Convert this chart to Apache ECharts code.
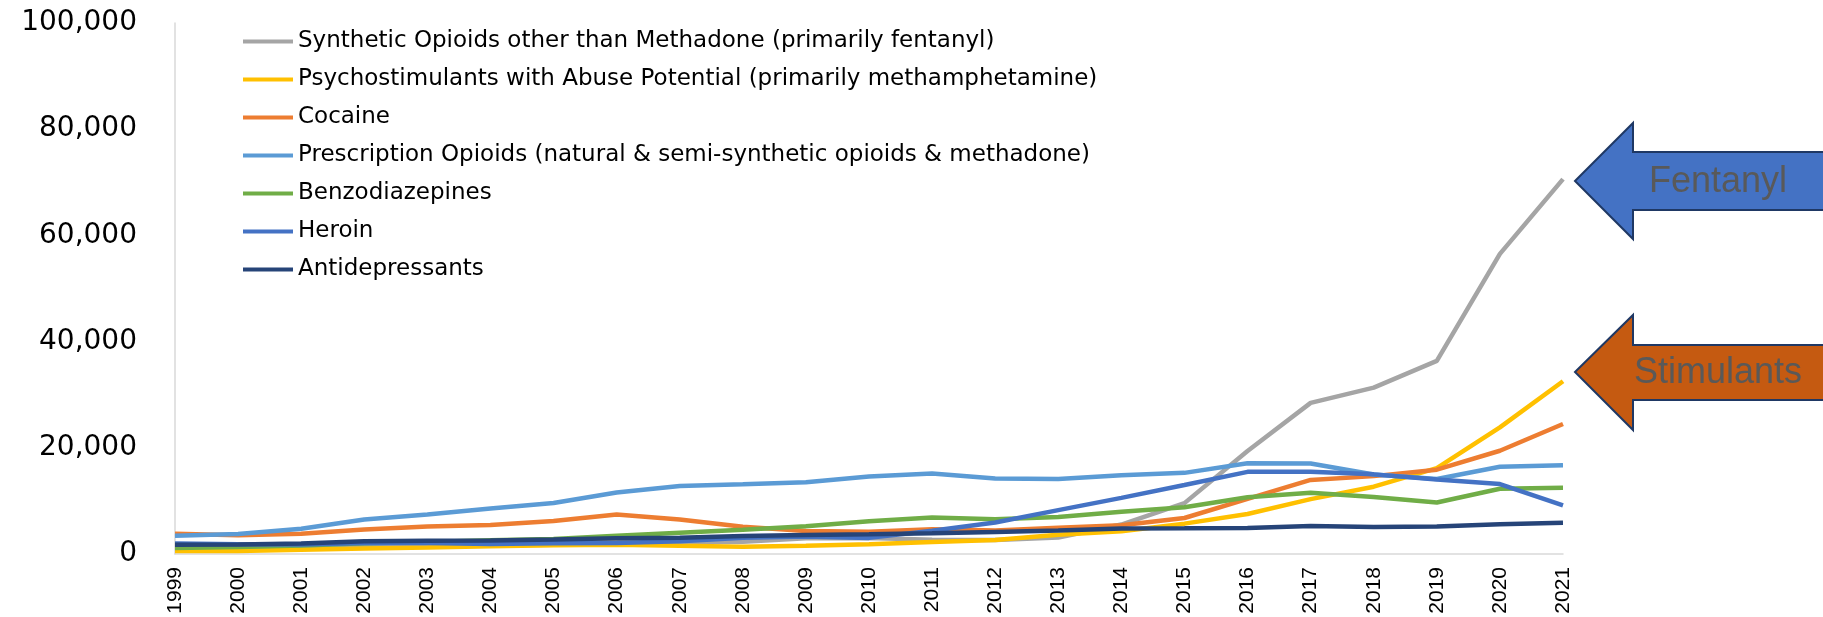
<!DOCTYPE html>
<html>
<head>
<meta charset="utf-8">
<script src="https://cdn.jsdelivr.net/npm/echarts@6.0.0/dist/echarts.min.js"></script>
<style>
  html, body { margin: 0; padding: 0; background: #fff; }
  #root { width: 1823px; height: 617px; }
</style>
</head>
<body>
<div id="root"></div>
<script>
// years on the x axis
const years = ["1999", "2000", "2001", "2002", "2003", "2004", "2005", "2006", "2007", "2008", "2009",
  "2010", "2011", "2012", "2013", "2014", "2015", "2016", "2017", "2018", "2019", "2020", "2021"];

// deaths per drug category
const synthetic = [730, 782, 957, 1295, 1400, 1664, 1742, 2707, 2213, 2306, 2946, 3007, 2666, 2628,
  3105, 5544, 9580, 19413, 28466, 31335, 36359, 56516, 70601];
const psychostimulants = [547, 578, 777, 1027, 1229, 1474, 1639, 1749, 1544, 1354, 1574, 1854, 2266,
  2622, 3627, 4298, 5716, 7542, 10333, 12676, 16167, 23837, 32537];
const cocaine = [3822, 3544, 3833, 4599, 5199, 5443, 6208, 7448, 6512, 5129, 4350, 4183, 4681, 4404,
  4944, 5415, 6784, 10375, 13942, 14666, 15883, 19447, 24486];
const prescription = [3442, 3785, 4770, 6483, 7456, 8577, 9612, 11589, 12796, 13149, 13523, 14583,
  15140, 14240, 14145, 14838, 15281, 17087, 17029, 14975, 14139, 16416, 16706];
const benzodiazepines = [1135, 1298, 1594, 2007, 2248, 2585, 2834, 3438, 4004, 4566, 5229, 6149, 6874,
  6524, 6973, 7945, 8791, 10684, 11537, 10724, 9711, 12290, 12499];
const heroin = [1960, 1842, 1779, 2089, 2080, 1878, 2009, 2088, 2399, 3041, 3278, 3036, 4397, 5925,
  8257, 10574, 12989, 15469, 15482, 14996, 14019, 13165, 9173];
const antidepressants = [1749, 1810, 1978, 2423, 2509, 2556, 2740, 2950, 3072, 3372, 3572, 3698, 3889,
  4155, 4411, 4812, 4839, 4883, 5269, 5064, 5182, 5591, 5863];

const seriesNames = [
  "Synthetic Opioids other than Methadone (primarily fentanyl)",
  "Psychostimulants with Abuse Potential (primarily methamphetamine)",
  "Cocaine",
  "Prescription Opioids (natural & semi-synthetic opioids & methadone)",
  "Benzodiazepines",
  "Heroin",
  "Antidepressants"
];
const seriesData = [synthetic, psychostimulants, cocaine, prescription, benzodiazepines, heroin, antidepressants];
const seriesColors = ["#A5A5A5", "#FFC000", "#ED7D31", "#5B9BD5", "#70AD47", "#4472C4", "#264478"];

const arrowLabels = ["Fentanyl", "Stimulants"];

(function () {
  const myChart = echarts.init(document.getElementById("root"), null, { renderer: "canvas" });

  // arrow outline: tip, head, then shaft running off the right edge
  const arrow = (tipX, tipY, headTop, shaftTop, shaftBottom, headBottom) => [
    [tipX, tipY], [1633, headTop], [1633, shaftTop], [1840, shaftTop],
    [1840, shaftBottom], [1633, shaftBottom], [1633, headBottom]
  ];

  const option = {
    backgroundColor: "#ffffff",
    animation: false,
    textStyle: { fontFamily: "DejaVu Sans" },
    grid: { left: 175, right: 260, top: 23, bottom: 63, containLabel: false },
    legend: {
      orient: "vertical",
      left: 238,
      top: 25,
      itemWidth: 50,
      itemHeight: 4,
      itemGap: 15,
      icon: "rect",
      textStyle: { fontFamily: "DejaVu Sans", fontSize: 23, color: "#000000" },
      data: seriesNames
    },
    xAxis: {
      type: "category",
      data: years,
      boundaryGap: false,
      axisLine: { lineStyle: { color: "#D9D9D9", width: 1.5 } },
      axisTick: { show: false },
      axisLabel: {
        rotate: 90,
        margin: 13,
        interval: 0,
        fontFamily: "Liberation Sans",
        fontSize: 21,
        color: "#000000"
      }
    },
    yAxis: {
      type: "value",
      min: 0,
      max: 100000,
      interval: 20000,
      axisLine: { show: true, lineStyle: { color: "#D9D9D9", width: 1.5 } },
      axisTick: { show: false },
      splitLine: { show: false },
      axisLabel: {
        margin: 38,
        fontFamily: "DejaVu Sans",
        fontSize: 28,
        color: "#000000",
        formatter: (v) => v.toLocaleString("en-US")
      }
    },
    series: seriesNames.map((name, i) => ({
      name,
      type: "line",
      data: seriesData[i],
      symbol: "none",
      color: seriesColors[i],
      lineStyle: { width: 4.5, color: seriesColors[i] }
    })),
    graphic: [
      {
        type: "polygon",
        shape: { points: arrow(1575, 181, 123, 152, 210, 239) },
        style: { fill: "#4472C4", stroke: "#1F3864", lineWidth: 2 }
      },
      {
        type: "polygon",
        shape: { points: arrow(1575, 372, 315, 345, 400, 430) },
        style: { fill: "#C55A11", stroke: "#1F3864", lineWidth: 2 }
      },
      {
        type: "text",
        style: {
          text: arrowLabels[0], x: 1718, y: 182,
          textAlign: "center", textVerticalAlign: "middle",
          align: "center", verticalAlign: "middle",
          font: "36px 'Liberation Sans'", fill: "#595959"
        }
      },
      {
        type: "text",
        style: {
          text: arrowLabels[1], x: 1718, y: 373,
          textAlign: "center", textVerticalAlign: "middle",
          align: "center", verticalAlign: "middle",
          font: "36px 'Liberation Sans'", fill: "#595959"
        }
      }
    ]
  };

  myChart.setOption(option);
})();
</script>
</body>
</html>
